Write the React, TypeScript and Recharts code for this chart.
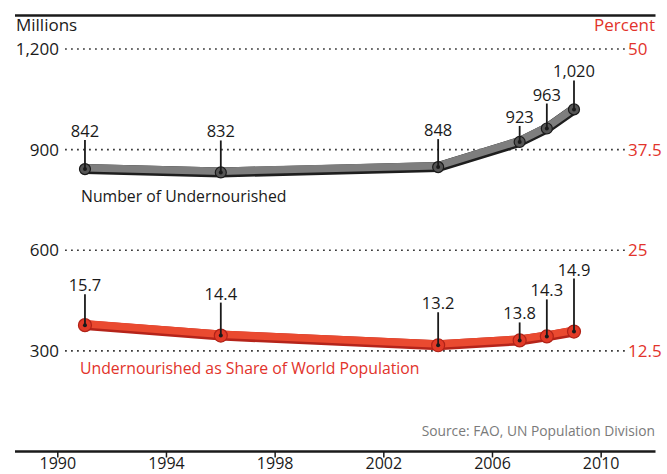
import React from "react";
import { LineChart, Line, XAxis, YAxis, ReferenceLine } from "recharts";

const YEARS = [1991, 1996, 2004, 2007, 2008, 2009];
const UNDERNOURISHED = [842, 832, 848, 923, 963, 1020];
const SHARE = [15.7, 14.4, 13.2, 13.8, 14.3, 14.9];
const YEAR_TICKS = [1990, 1994, 1998, 2002, 2006, 2010];
const MILLION_TICKS = [300, 600, 900, 1200];
const PERCENT_TICKS = [12.5, 25, 37.5, 50];

// px lift of each value label above its point
const MILLION_LIFT = [32, 35, 31, 19, 28, 32];
const SHARE_LIFT = [34, 36, 36, 21, 40, 56];

const FONT = "'Open Sans', sans-serif";
const INK = "#1a1a1a";
const RED = "#e2332b";

const data = YEARS.map((year, i) => ({ year, millions: UNDERNOURISHED[i], share: SHARE[i] }));

const fmt = (v: number) => v.toLocaleString("en-US");

const Knot = (props: any) => {
  const { cx, cy, index, lifts, label, fill, edge, r } = props;
  const base = cy - lifts[index];
  return (
    <g key={`k-${index}`}>
      <circle cx={cx} cy={cy} r={r} fill={fill} stroke={edge} strokeWidth={1.2} />
      <line x1={cx} y1={base + 3} x2={cx} y2={cy} stroke={INK} strokeWidth={1.8} />
      <circle cx={cx} cy={cy} r={2} fill={INK} />
      <text x={cx} y={base} textAnchor="middle" fontFamily={FONT} fontSize={16.5} fill={INK}>
        {label}
      </text>
    </g>
  );
};

const LeftTick = ({ y, payload }: any) => (
  <text x={59} y={y + 6} textAnchor="end" fontFamily={FONT} fontSize={17} fill={INK}>
    {fmt(payload.value)}
  </text>
);

const RightTick = ({ y, payload }: any) => (
  <text x={628} y={y + 6} textAnchor="start" fontFamily={FONT} fontSize={17} fill={RED}>
    {payload.value}
  </text>
);

export default function App() {
  return (
    <div style={{ position: "absolute", left: 0, top: 0, width: 667, height: 474, background: "#fff" }}>
      <LineChart width={667} height={474} data={data} margin={{ top: 15.5, right: 0, left: 0, bottom: 0 }}>
        <XAxis
          dataKey="year"
          type="number"
          domain={[1988.425, 2012]}
          ticks={YEAR_TICKS}
          interval={0}
          height={22.5}
          axisLine={{ stroke: INK, strokeWidth: 2.5 }}
          tickLine={{ stroke: INK, strokeWidth: 1.5 }}
          tickSize={6}
          tickMargin={0}
          tick={{ fontFamily: FONT, fontSize: 16, fill: INK }}
        />
        <YAxis
          yAxisId="m"
          orientation="left"
          width={15}
          domain={[0, 1300]}
          ticks={MILLION_TICKS}
          axisLine={false}
          tickLine={false}
          tick={<LeftTick />}
        />
        <YAxis
          yAxisId="p"
          orientation="right"
          width={11.5}
          domain={[0, 1300 / 24]}
          ticks={PERCENT_TICKS}
          axisLine={false}
          tickLine={false}
          tick={<RightTick />}
        />
        <ReferenceLine yAxisId="m" y={1300} stroke={INK} strokeWidth={2.5} />
        {MILLION_TICKS.map((v) => (
          <ReferenceLine
            key={v}
            yAxisId="m"
            segment={[{ x: 1990.27, y: v }, { x: 2010.88, y: v }]}
            stroke="#222"
            strokeWidth={1.6}
            strokeDasharray="1.6 4.4"
          />
        ))}

        <Line yAxisId="m" dataKey="millions" type="linear" stroke="#1e1e1e" strokeWidth={10}
          strokeLinecap="round" dot={false} isAnimationActive={false} />
        <Line yAxisId="m" dataKey="millions" type="linear" stroke="#7e7e7e" strokeWidth={7.5}
          style={{ transform: "translate(0px, -1.3px)" }}
          dot={(p: any) => (
            <Knot key={`m-${p.index}`} {...p} lifts={MILLION_LIFT} label={fmt(UNDERNOURISHED[p.index])}
              fill="#555" edge="#1a1a1a" r={5.5} />
          )}
          isAnimationActive={false} />

        <Line yAxisId="p" dataKey="share" type="linear" stroke="#b5241a" strokeWidth={10}
          strokeLinecap="round" dot={false} isAnimationActive={false} />
        <Line yAxisId="p" dataKey="share" type="linear" stroke="#ea4a30" strokeWidth={7.5}
          style={{ transform: "translate(0px, -1.3px)" }}
          dot={(p: any) => (
            <Knot key={`s-${p.index}`} {...p} lifts={SHARE_LIFT} label={String(SHARE[p.index])}
              fill="#e23a27" edge="#b02318" r={6.5} />
          )}
          isAnimationActive={false} />
      </LineChart>

      <svg width={667} height={474} style={{ position: "absolute", left: 0, top: 0, pointerEvents: "none" }}>
        <text x={16} y={31} fontFamily={FONT} fontSize={17} fill={INK}>Millions</text>
        <text x={655} y={31} textAnchor="end" fontFamily={FONT} fontSize={17} fill={RED}>Percent</text>
        <text x={81} y={202} fontFamily={FONT} fontSize={15.8} fill={INK}>Number of Undernourished</text>
        <text x={80} y={374} fontFamily={FONT} fontSize={15.8} fill={RED}>
          Undernourished as Share of World Population
        </text>
        <text x={655} y={436} textAnchor="end" fontFamily={FONT} fontSize={13.8} fill="#7a7a7a">
          Source: FAO, UN Population Division
        </text>
      </svg>
    </div>
  );
}
